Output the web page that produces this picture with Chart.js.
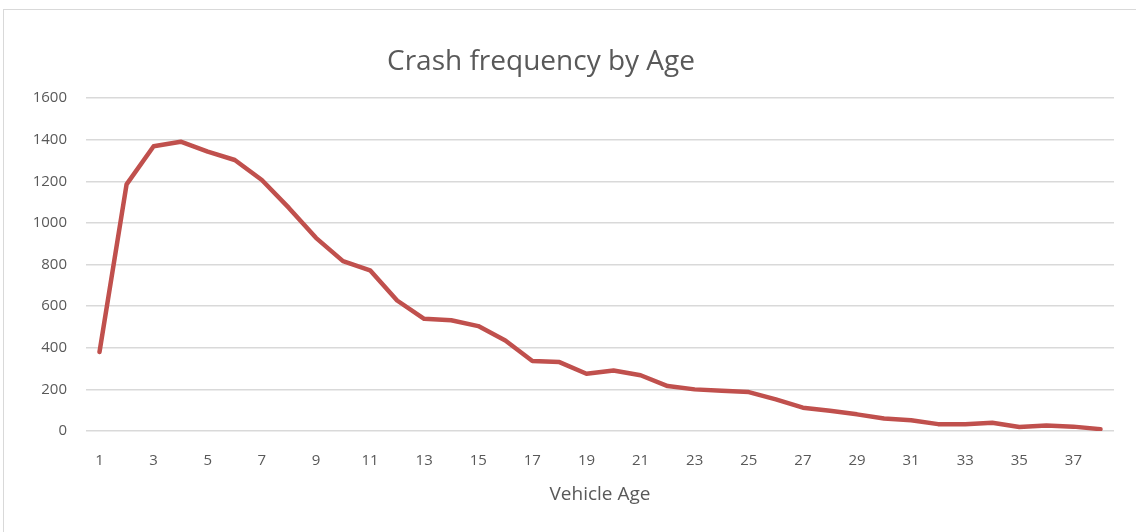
<!DOCTYPE html>
<html>
<head>
<meta charset="utf-8">
<script src="https://cdn.jsdelivr.net/npm/chart.js@4"></script>
<style>
  html, body { margin: 0; padding: 0; background: #fff; }
  #wrap { position: relative; width: 1136px; height: 532px; overflow: hidden; }
  #frame { position: absolute; left: 3px; top: 9px; width: 1150px; height: 540px; border: 1px solid #d9d9d9; }
  canvas { position: absolute; left: 0; top: 0; }
</style>
</head>
<body>
<div id="wrap">
  <div id="frame"></div>
  <canvas id="crashChart" width="1136" height="532"></canvas>
</div>
<script>
// vehicle age 1..38 and crash counts
const vehicleAges = [1, 2, 3, 4, 5, 6, 7, 8, 9, 10, 11, 12, 13, 14, 15, 16, 17, 18, 19,
    20, 21, 22, 23, 24, 25, 26, 27, 28, 29, 30, 31, 32, 33, 34, 35, 36, 37, 38];
const crashCounts = [380, 1185, 1368, 1390, 1342, 1302, 1206, 1072, 928, 816, 772, 627, 539,
    532, 504, 435, 336, 331, 275, 291, 268, 216, 200, 193, 187, 152, 112, 97, 80, 60, 52,
    33, 33, 40, 19, 27, 21, 9];
const yTicks = [0, 200, 400, 600, 800, 1000, 1200, 1400, 1600];

const titleText = 'Crash frequency by Age';
const textColor = '#595959';
const fontFamily = '"Open Sans", "Noto Sans", sans-serif';

// chart title is drawn a bit left of the plot centre, like the original
const titlePlugin = {
    id: 'offsetTitle',
    afterDraw(chart) {
        const ctx = chart.ctx;
        ctx.save();
        ctx.fillStyle = textColor;
        ctx.font = '28px ' + fontFamily;
        ctx.textAlign = 'center';
        ctx.textBaseline = 'middle';
        ctx.fillText(titleText, 541, 62);
        ctx.restore();
    }
};

const ctx = document.getElementById('crashChart').getContext('2d');
new Chart(ctx, {
    type: 'line',
    data: {
        labels: vehicleAges,
        datasets: [{
            label: 'Crashes',
            data: crashCounts,
            borderColor: '#c0504d',
            backgroundColor: '#c0504d',
            borderWidth: 4.5,
            pointRadius: 0,
            tension: 0,
            fill: false,
            borderCapStyle: 'round',
            borderJoinStyle: 'round'
        }]
    },
    options: {
        responsive: false,
        animation: false,
        devicePixelRatio: 1,
        layout: {
            padding: { left: 0, right: 22, top: 98, bottom: 26 }
        },
        plugins: {
            legend: { display: false },
            tooltip: { enabled: false },
            title: { display: false }
        },
        scales: {
            x: {
                offset: true,
                grid: { display: false, drawTicks: false },
                border: { display: false },
                ticks: {
                    autoSkip: false,
                    maxRotation: 0,
                    padding: 21,
                    color: textColor,
                    font: { family: fontFamily, size: 15 },
                    callback: function(value, index) {
                        return index % 2 === 0 ? vehicleAges[index] : '';
                    }
                },
                title: {
                    display: true,
                    text: 'Vehicle Age',
                    color: textColor,
                    font: { family: fontFamily, size: 19 },
                    padding: { top: 10, bottom: 0 }
                },
                afterFit: function(scale) {
                    scale.height = 75;
                }
            },
            y: {
                min: 0,
                max: 1600,
                afterBuildTicks: function(scale) {
                    scale.ticks = yTicks.map(v => ({ value: v }));
                },
                grid: {
                    color: '#d9d9d9',
                    lineWidth: 1.5,
                    drawTicks: false
                },
                border: { display: false },
                ticks: {
                    padding: 19,
                    color: textColor,
                    font: { family: fontFamily, size: 15 },
                    callback: function(value) {
                        return String(value);
                    }
                },
                afterFit: function(scale) {
                    scale.width = 86;
                }
            }
        }
    },
    plugins: [titlePlugin]
});
</script>
</body>
</html>
